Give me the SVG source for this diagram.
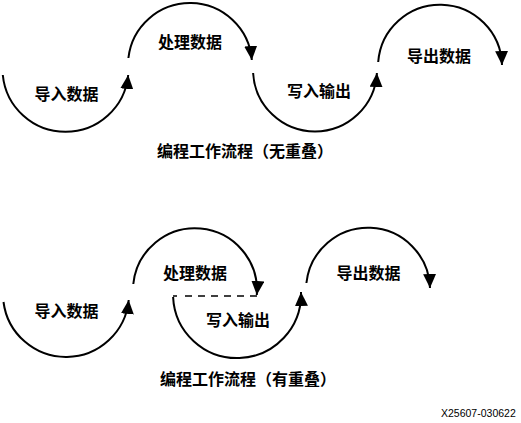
<svg xmlns="http://www.w3.org/2000/svg" width="521" height="423" viewBox="0 0 521 423">
<style>
.arc{fill:none;stroke:#000;stroke-width:2;}
.lbl{font-family:"Noto Sans CJK SC","Noto Sans CJK JP",sans-serif;font-size:16px;font-weight:bold;text-anchor:middle;dominant-baseline:central;fill:#000;}
.id{font-family:"Liberation Sans",Arial,sans-serif;font-size:10.5px;fill:#000;}
</style>
<defs>
<marker id="ah" markerUnits="userSpaceOnUse" markerWidth="14" markerHeight="13" refX="14" refY="6.5" orient="auto" viewBox="0 0 14 13">
<path d="M0,0 L14,6.5 L0,13 z" fill="#000"/>
</marker>
</defs>
<rect width="521" height="423" fill="#fff"/>
<g id="connectors">
<path class="arc" d="M2.8,75 A63,63 0 0 0 128.2,75" marker-end="url(#ah)"/>
<path class="arc" d="M128.4,58 A62,62 0 0 1 251.8,60" marker-end="url(#ah)"/>
<path class="arc" d="M253.1,73 A62,62 0 0 0 376.9,73" marker-end="url(#ah)"/>
<path class="arc" d="M378.2,62 A62,62 0 0 1 502,65" marker-end="url(#ah)"/>
<path class="arc" d="M3.5,302 A63,63 0 0 0 128.7,300" marker-end="url(#ah)"/>
<path class="arc" d="M133.3,284 A62,62 0 0 1 256.8,295" marker-end="url(#ah)"/>
<path class="arc" d="M173.1,297 A64,64 0 0 0 301,292" marker-end="url(#ah)"/>
<path class="arc" d="M306.4,283 A62,62 0 0 1 430,288" marker-end="url(#ah)"/>
<line x1="173" y1="296" x2="258" y2="296" stroke="#000" stroke-width="1.5" stroke-dasharray="4 8 7 6 7 6 7 6 7 6 7 6 7 6"/>
</g>
<g id="top-import"><text class="lbl" x="66.5" y="92.5">导入数据</text></g>
<g id="top-process"><text class="lbl" x="190" y="41">处理数据</text></g>
<g id="top-write"><text class="lbl" x="319" y="89.5">写入输出</text></g>
<g id="top-export"><text class="lbl" x="439" y="54.5">导出数据</text></g>
<g id="top-caption"><text class="lbl" x="245" y="150">编程工作流程（无重叠）</text></g>
<g id="bot-import"><text class="lbl" x="66.5" y="310">导入数据</text></g>
<g id="bot-process"><text class="lbl" x="195" y="271.5">处理数据</text></g>
<g id="bot-write"><text class="lbl" x="238" y="318.5">写入输出</text></g>
<g id="bot-export"><text class="lbl" x="368.5" y="271.5">导出数据</text></g>
<g id="bot-caption"><text class="lbl" x="248" y="377.5">编程工作流程（有重叠）</text></g>
<g id="figure-id"><text class="id" x="441" y="417">X25607-030622</text></g>
</svg>
